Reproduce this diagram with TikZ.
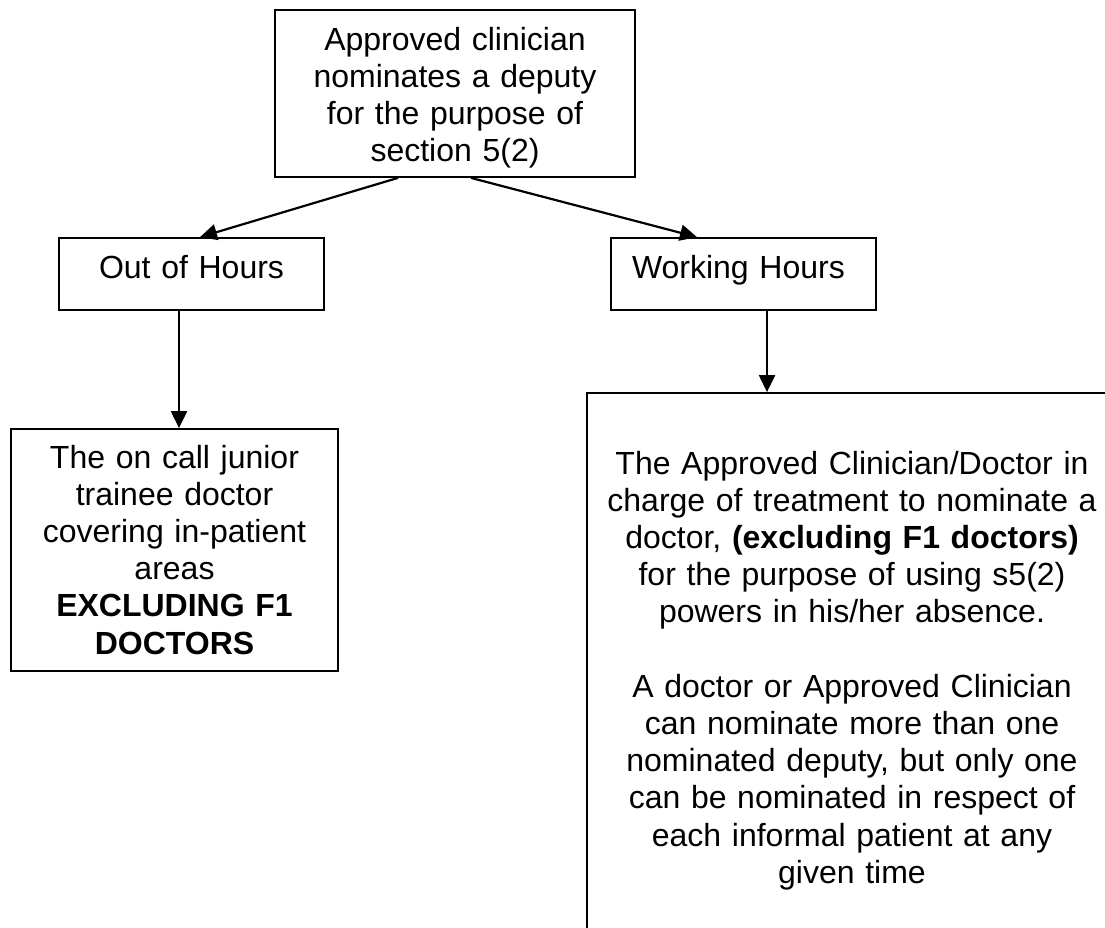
\documentclass[tikz,border=0pt]{standalone}
\usepackage{fontspec}
\setmainfont{Liberation Sans}
\usetikzlibrary{arrows.meta}
\tikzset{
  box/.style={draw=black, line width=1.8pt, inner sep=0pt, align=center,
    font=\fontsize{32pt}{37.2pt}\selectfont},
  conn/.style={draw=black, line width=2.2pt, -{Triangle[length=17pt,width=16pt]}}
}
\begin{document}
\begin{tikzpicture}[x=1pt,y=-1pt]
\useasboundingbox (0,0) rectangle (1105,927);
\clip (0,0) rectangle (1105,927);
\node[box, minimum width=360pt, minimum height=167pt, text width=340pt,
  text height=0pt, text depth=87pt] (top) at (455,93.5)
  {Approved clinician\\nominates a deputy\\for the purpose of\\section 5(2)};
\node[box, minimum width=265pt, minimum height=72pt, text width=240pt,
  text height=8pt, text depth=0pt] (ooh) at (191.5,274) {Out of Hours};
\node[box, minimum width=265pt, minimum height=72pt, text width=223pt, align=left,
  text height=8pt, text depth=0pt] (wh) at (743.5,274) {Working Hours};
\node[box, minimum width=327pt, minimum height=242pt, text width=300pt,
  text height=0pt, text depth=164pt] (bl) at (174.5,550)
  {The on call junior\\trainee doctor\\covering in-patient\\areas\\\textbf{EXCLUDING F1}\\\textbf{DOCTORS}};
\node[box, minimum width=530pt, minimum height=567pt, text width=500pt,
  text height=0pt, text depth=405pt] (br) at (852,676.5)
  {The Approved Clinician/Doctor in\\charge of treatment to nominate a\\doctor, \textbf{(excluding F1 doctors)}\\for the purpose of using s5(2)\\powers in his/her absence.\\[37.2pt]A doctor or Approved Clinician\\can nominate more than one\\nominated deputy, but only one\\can be nominated in respect of\\each informal patient at any\\given time};
\draw[conn] ([xshift=-57pt]top.south) -- ([xshift=8.5pt]ooh.north);
\draw[conn] ([xshift=16pt]top.south) -- ([xshift=-46.5pt]wh.north);
\draw[conn] ([xshift=-12.5pt]ooh.south) -- ([xshift=-12.5pt]ooh.south |- bl.north);
\draw[conn] ([xshift=23.5pt]wh.south) -- ([xshift=23.5pt]wh.south |- br.north);
\end{tikzpicture}
\end{document}
